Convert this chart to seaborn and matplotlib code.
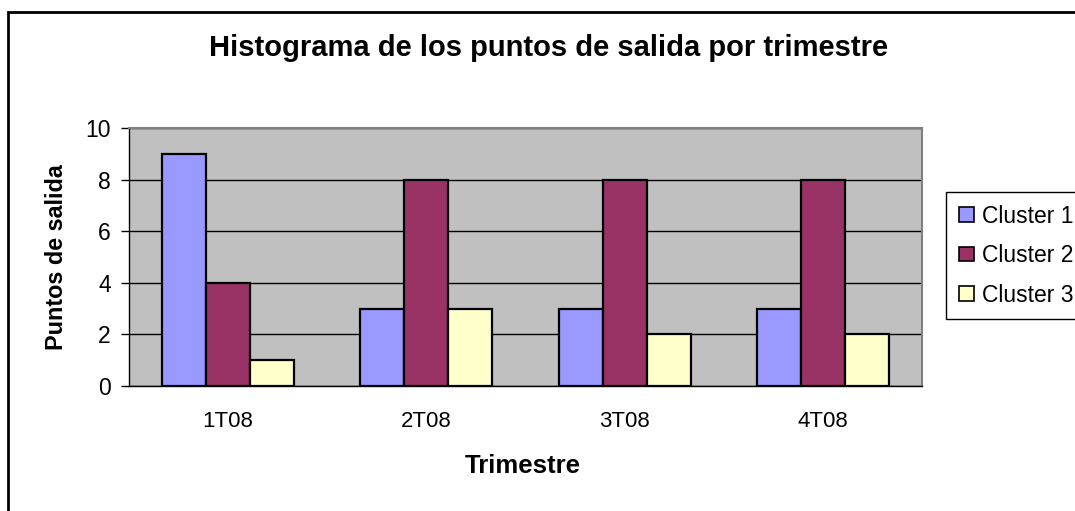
import matplotlib
matplotlib.use("Agg")
import matplotlib.pyplot as plt
import seaborn as sns
import pandas as pd
from matplotlib.patches import Rectangle, Patch

# ---- data ----
quarters = ["1T08", "2T08", "3T08", "4T08"]
cluster_names = ["Cluster 1", "Cluster 2", "Cluster 3"]
cluster1 = [9, 3, 3, 3]
cluster2 = [4, 8, 8, 8]
cluster3 = [1, 3, 2, 2]
y_ticks = [0, 2, 4, 6, 8, 10]
title = "Histograma de los puntos de salida por trimestre"
x_label = "Trimestre"
y_label = "Puntos de salida"

colors = ["#9999FF", "#993366", "#FFFFCC"]

sns.set_style("white")
plt.rcParams['font.family'] = ['Liberation Sans', 'DejaVu Sans']
plt.rcParams['text.color'] = 'black'
plt.rcParams['axes.labelcolor'] = 'black'
plt.rcParams['xtick.color'] = 'black'
plt.rcParams['ytick.color'] = 'black'

rows = []
for name, vals in zip(cluster_names, [cluster1, cluster2, cluster3]):
    for q, v in zip(quarters, vals):
        rows.append({"Trimestre": q, "Puntos": v, "Cluster": name})
df = pd.DataFrame(rows)

W, H = 1075, 511
fig = plt.figure(figsize=(W / 100, H / 100), dpi=100)
fig.patch.set_facecolor("white")

L, R, T, B = 129, 922, 128, 386
ax = fig.add_axes([L / W, 1 - B / H, (R - L) / W, (B - T) / H])

sns.barplot(data=df, x="Trimestre", y="Puntos", hue="Cluster",
            order=quarters, hue_order=cluster_names, palette=colors,
            saturation=1, width=0.666, edgecolor="black", linewidth=1.6,
            errorbar=None, legend=False, ax=ax)

ax.set_facecolor("#C0C0C0")
ax.set_xlim(-0.5, len(quarters) - 0.5)
ax.set_ylim(0, 10)
ax.set_yticks(y_ticks)
ax.set_yticklabels([str(t) for t in y_ticks], fontsize=16.5, color="black")
ax.yaxis.grid(True, color="black", linewidth=1)
ax.xaxis.grid(False)
ax.set_axisbelow(True)

ax.set_xticks(range(len(quarters)))
ax.set_xticklabels(quarters, fontsize=16, color="black")
ax.set_xticks([i - 0.5 for i in range(len(quarters) + 1)], minor=True)
ax.tick_params(axis="x", which="major", length=0, pad=18)
ax.tick_params(axis="x", which="minor", length=6, width=1, color="black", direction="out")
ax.tick_params(axis="y", which="major", length=6, width=1, color="black",
               direction="out", pad=7, left=True)

for s in ["top", "right"]:
    ax.spines[s].set_color("#808080")
    ax.spines[s].set_linewidth(1.5)
for s in ["left", "bottom"]:
    ax.spines[s].set_color("black")
    ax.spines[s].set_linewidth(1)

ax.set_xlabel("")
ax.set_ylabel("")

fig.text(549 / W, 1 - 48 / H, title, ha="center", va="center",
         fontsize=21, fontweight="bold", color="black")
fig.text(57 / W, 1 - 257 / H, y_label, ha="center", va="center",
         rotation=90, fontsize=16.8, fontweight="bold", color="black")
fig.text(523 / W, 1 - 466 / H, x_label, ha="center", va="center",
         fontsize=18.5, fontweight="bold", color="black")

handles = [Patch(facecolor=c, edgecolor="black", linewidth=1.2) for c in colors]
leg = fig.legend(handles, cluster_names, loc="upper left",
                 bbox_to_anchor=(946 / W, 1 - 192 / H), frameon=True,
                 fancybox=False, shadow=False, fontsize=16.5,
                 handlelength=0.65, handleheight=0.6, handletextpad=0.35,
                 labelspacing=0.72, borderpad=0.55, borderaxespad=0)
leg.get_frame().set_edgecolor("black")
leg.get_frame().set_linewidth(1)
leg.get_frame().set_alpha(1)
for t in leg.get_texts():
    t.set_color("black")

fig.patches.append(Rectangle((8 / W, -0.1), 1.2, (1 - 12 / H) + 0.1,
                             transform=fig.transFigure, fill=False,
                             linewidth=2, edgecolor="black"))

fig.savefig("out.png", dpi=100)
